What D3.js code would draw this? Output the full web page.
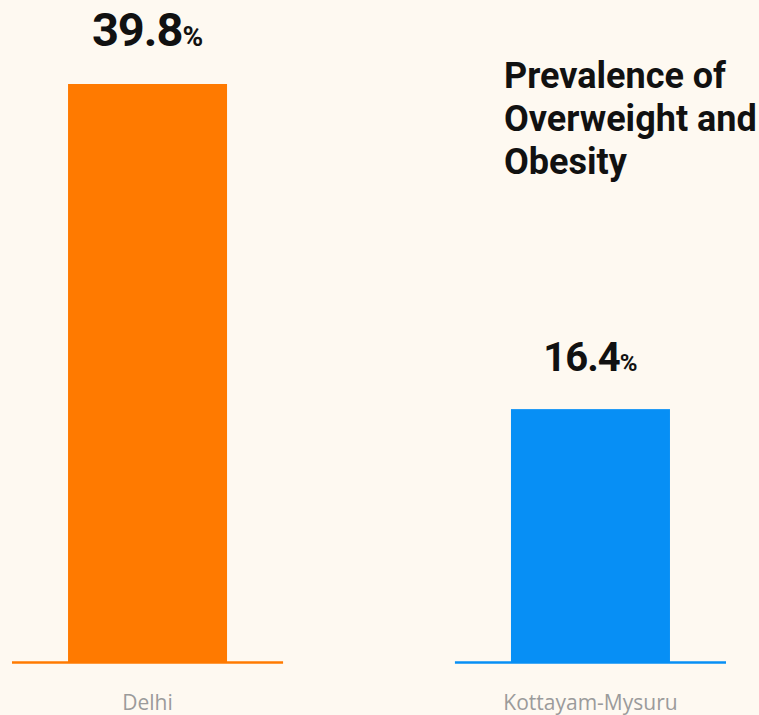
<!DOCTYPE html>
<html>
<head>
<meta charset="utf-8">
<script src="https://cdn.jsdelivr.net/npm/d3@7"></script>
<style>
  html, body { margin: 0; padding: 0; background: #fef9f1; }
  svg { display: block; }
</style>
</head>
<body>
<svg id="chart" width="759" height="715"></svg>
<script>
const categories = ["Delhi", "Kottayam-Mysuru"];
const values = [39.8, 16.4];
const colors = ["#ff7a00", "#078ff5"];
const titleLines = ["Prevalence of", "Overweight and", "Obesity"];

const W = 759, H = 715;
const svg = d3.select("#chart");

const x = d3.scaleBand().domain(categories).range([12, 726]).paddingInner(0.388).paddingOuter(0);
const y = d3.scaleLinear().domain([-1.8, 39.8]).range([662, 84]);
const barW = 159;

const g = svg.append("g");

// bars
g.selectAll("rect.bar").data(categories).join("rect")
  .attr("class", "bar")
  .attr("x", d => x(d) + x.bandwidth() / 2 - barW / 2)
  .attr("width", barW)
  .attr("y", (d, i) => y(values[i]))
  .attr("height", (d, i) => y(-1.8) - y(values[i]))
  .attr("fill", (d, i) => colors[i]);

// baselines
g.selectAll("line.base").data(categories).join("line")
  .attr("class", "base")
  .attr("x1", d => x(d)).attr("x2", d => x(d) + x.bandwidth())
  .attr("y1", y(-1.8) + 0.5).attr("y2", y(-1.8) + 0.5)
  .attr("stroke", (d, i) => colors[i]).attr("stroke-width", 2.5);

// value labels
const vl = g.selectAll("text.val").data(categories).join("text")
  .attr("class", "val")
  .attr("x", d => x(d) + x.bandwidth() / 2)
  .attr("y", (d, i) => y(values[i]) - 38)
  .attr("text-anchor", "middle")
  .attr("font-family", "Roboto, sans-serif")
  .attr("font-weight", 700)
  .attr("fill", "#111");
vl.append("tspan")
  .attr("font-size", (d, i) => i === 0 ? 47 : 40)
  .attr("letter-spacing", -1)
  .text((d, i) => values[i].toFixed(1));
vl.append("tspan")
  .attr("font-size", (d, i) => i === 0 ? 28 : 24)
  .text("%");

// category labels
g.selectAll("text.cat").data(categories).join("text")
  .attr("class", "cat")
  .attr("x", d => x(d) + x.bandwidth() / 2)
  .attr("y", 710)
  .attr("text-anchor", "middle")
  .attr("font-family", "'Open Sans', sans-serif")
  .attr("font-size", 21)
  .attr("fill", "#9b9b9b")
  .text(d => d);

// title
const title = g.append("text")
  .attr("x", 504)
  .attr("font-family", "Roboto, sans-serif")
  .attr("font-weight", 700)
  .attr("font-size", 36)
  .attr("letter-spacing", 0)
  .attr("fill", "#111");
title.selectAll("tspan").data(titleLines).join("tspan")
  .attr("x", 504)
  .attr("y", (d, i) => 88 + i * 43)
  .text(d => d);
</script>
</body>
</html>
